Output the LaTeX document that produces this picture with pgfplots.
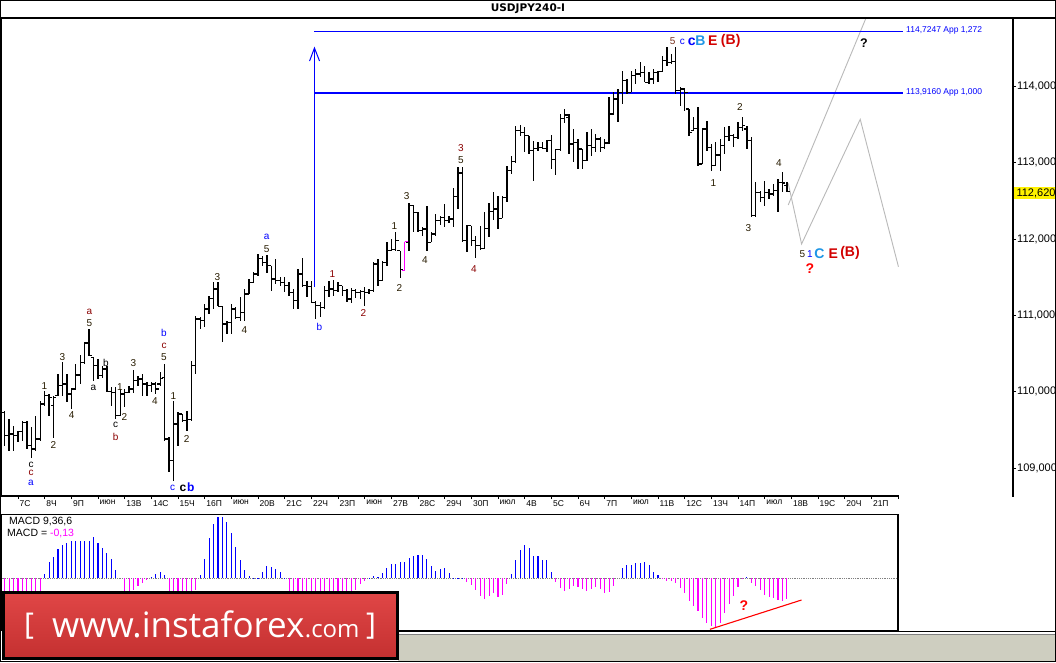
\documentclass[border=0pt]{standalone}
\usepackage{fontspec}
\setmainfont{Liberation Sans}
\newfontfamily\dvs{DejaVu Sans}
\newfontfamily\logofont{Open Sans}
\usepackage{pgfplots}
\usepackage{pgfplotstable}
\pgfplotsset{compat=1.18}
\definecolor{nb}{RGB}{40,28,0}
\definecolor{dr}{RGB}{139,0,0}
\definecolor{wb}{RGB}{0,0,255}
\definecolor{lb}{RGB}{30,150,230}
\definecolor{rb}{RGB}{210,0,0}
\definecolor{br}{RGB}{120,50,30}
\definecolor{mg}{RGB}{255,0,255}
\definecolor{logotop}{RGB}{224,70,70}
\definecolor{logobot}{RGB}{196,48,48}
\definecolor{checker}{RGB}{206,206,192}
\definecolor{projgray}{RGB}{185,185,185}

\pgfplotstableread{
k h l o c
-3 109.751 109.292 109.729 109.424
-2 109.642 109.227 109.424 109.445
-1 109.555 109.227 109.445 109.424
0 109.489 109.336 109.424 109.476
1 109.620 109.358 109.476 109.598
2 109.620 109.249 109.598 109.292
3 109.533 109.126 109.292 109.249
4 109.686 109.227 109.249 109.380
5 109.882 109.358 109.380 109.839
6 110.013 109.817 109.839 109.948
7 109.970 109.686 109.948 109.926
8 109.948 109.389 109.817 109.926
9 110.232 109.948 109.948 110.079
10 110.385 109.948 110.079 110.101
11 110.232 109.860 110.101 109.970
12 110.035 109.773 109.970 110.035
13 110.363 110.035 110.035 110.219
14 110.481 110.101 110.219 110.385
15 110.647 110.363 110.385 110.638
16 110.822 110.472 110.638 110.472
17 110.450 110.144 110.450 110.341
18 110.428 110.166 110.341 110.210
19 110.341 110.175 110.210 110.297
20 110.341 109.991 110.297 110.000
21 110.057 109.817 110.000 109.991
22 110.057 109.642 109.991 109.686
23 110.035 109.686 109.686 109.970
24 110.035 109.795 109.970 109.991
25 110.079 109.983 109.991 110.035
26 110.289 109.983 110.035 110.144
27 110.210 110.070 110.144 110.166
28 110.232 109.939 110.166 110.101
29 110.122 109.948 110.101 110.079
30 110.131 110.000 110.079 110.101
31 110.131 109.970 110.101 110.035
32 110.254 110.070 110.101 110.175
33 110.363 109.358 110.188 109.380
34 109.402 108.943 109.380 109.096
35 109.882 108.825 109.096 109.577
36 109.729 109.292 109.577 109.707
37 109.707 109.598 109.707 109.620
38 109.751 109.489 109.620 109.633
39 110.406 109.620 109.633 110.341
40 110.996 110.232 110.341 110.953
41 110.974 110.822 110.953 110.931
42 111.149 110.843 110.931 111.084
43 111.258 111.018 111.084 111.223
44 111.433 111.084 111.223 111.346
45 111.442 111.119 111.346 111.119
46 111.127 110.655 111.119 110.887
47 110.931 110.756 110.887 110.909
48 111.149 110.756 110.909 111.084
49 111.106 110.953 111.084 110.974
50 111.237 110.931 110.974 111.040
51 111.346 110.931 111.040 111.280
52 111.477 111.280 111.280 111.433
53 111.564 111.424 111.433 111.542
54 111.804 111.520 111.542 111.748
55 111.783 111.652 111.748 111.695
56 111.800 111.564 111.695 111.652
57 111.652 111.324 111.652 111.477
58 111.739 111.411 111.477 111.455
59 111.499 111.389 111.455 111.433
60 111.499 111.302 111.433 111.389
61 111.433 111.258 111.389 111.302
62 111.346 111.084 111.302 111.193
63 111.608 111.084 111.193 111.542
64 111.748 111.368 111.542 111.389
65 111.455 111.237 111.389 111.381
66 111.455 111.171 111.381 111.171
67 111.193 110.953 111.171 111.127
68 111.171 110.974 111.127 111.106
69 111.389 111.084 111.106 111.324
70 111.455 111.237 111.324 111.346
71 111.468 111.258 111.346 111.324
72 111.433 111.302 111.324 111.389
73 111.389 111.258 111.389 111.324
74 111.346 111.171 111.324 111.215
75 111.355 111.162 111.215 111.324
76 111.346 111.223 111.324 111.302
77 111.337 111.215 111.302 111.311
78 111.368 111.119 111.311 111.302
79 111.346 111.280 111.302 111.324
80 111.695 111.302 111.324 111.673
81 111.739 111.381 111.673 111.455
82 111.717 111.455 111.455 111.695
83 111.957 111.652 111.695 111.848
84 112.001 111.848 111.848 111.861
85 112.097 111.848 111.861 111.979
86 111.848 111.486 111.848 111.599
87 111.966 111.586 111.586 111.966
88 112.473 111.848 111.957 112.438
89 112.447 112.089 112.438 112.351
90 112.351 112.089 112.351 112.110
91 112.154 112.045 112.110 112.132
92 112.429 111.848 112.132 111.957
93 112.089 111.957 111.957 112.067
94 112.329 112.045 112.067 112.241
95 112.307 112.185 112.241 112.285
96 112.460 112.154 112.285 112.241
97 112.307 112.211 112.241 112.263
98 112.665 112.154 112.263 112.560
99 112.940 112.394 112.560 112.866
100 112.940 111.957 112.866 111.979
101 112.185 111.826 111.979 112.176
102 112.176 111.914 112.176 111.979
103 112.045 111.748 111.979 111.914
104 112.176 111.861 111.914 111.879
105 112.351 111.870 111.879 112.141
106 112.473 112.023 112.141 112.359
107 112.613 112.255 112.359 112.394
108 112.569 112.132 112.394 112.272
109 112.569 112.272 112.272 112.547
110 112.962 112.482 112.547 112.897
111 113.085 112.853 112.897 113.015
112 113.478 113.001 113.015 113.421
113 113.495 113.356 113.421 113.399
114 113.465 113.137 113.399 113.356
115 113.356 113.115 113.356 113.159
116 113.290 112.766 113.159 113.189
117 113.268 113.159 113.189 113.203
118 113.277 113.181 113.203 113.189
119 113.303 113.146 113.189 113.290
120 113.364 112.919 113.290 113.041
121 113.181 112.840 113.041 113.172
122 113.639 113.159 113.172 113.583
123 113.705 113.521 113.583 113.626
124 113.640 113.116 113.596 113.247
125 113.443 113.007 113.247 113.269
126 113.312 112.919 113.269 113.181
127 113.181 112.919 113.181 113.028
128 113.400 113.028 113.028 113.225
129 113.443 113.094 113.225 113.203
130 113.378 113.138 113.203 113.312
131 113.334 113.138 113.312 113.203
132 113.312 113.181 113.203 113.260
133 113.858 113.247 113.260 113.640
134 113.924 113.640 113.640 113.837
135 113.968 113.531 113.837 113.924
136 114.208 113.771 113.924 114.077
137 114.099 113.902 114.077 113.924
138 114.208 113.924 113.924 114.142
139 114.230 114.033 114.142 114.164
140 114.317 114.121 114.164 114.186
141 114.273 114.055 114.186 114.055
142 114.186 114.033 114.055 114.099
143 114.230 114.033 114.099 114.186
144 114.208 114.055 114.186 114.195
145 114.404 114.186 114.195 114.339
146 114.514 114.274 114.339 114.317
147 114.426 114.295 114.317 114.326
148 114.514 113.902 114.326 113.946
149 113.989 113.749 113.946 113.968
150 113.968 113.684 113.968 113.924
151 113.706 113.356 113.706 113.400
152 113.596 113.422 113.422 113.452
153 113.727 112.963 113.452 112.985
154 113.452 112.985 112.985 113.443
155 113.553 113.159 113.443 113.203
156 113.247 112.897 113.203 112.963
157 113.269 112.963 112.963 113.103
158 113.312 112.897 113.103 113.225
159 113.465 113.116 113.225 113.347
160 113.487 113.290 113.347 113.356
161 113.378 113.203 113.356 113.334
162 113.531 113.312 113.334 113.465
163 113.596 113.422 113.465 113.487
164 113.487 113.181 113.443 113.291
165 113.334 112.286 113.291 112.308
166 112.744 112.286 112.308 112.613
167 112.635 112.482 112.613 112.548
168 112.766 112.439 112.548 112.613
169 112.657 112.526 112.613 112.592
170 112.723 112.570 112.592 112.635
171 112.788 112.351 112.635 112.744
172 112.876 112.613 112.744 112.736
173 112.744 112.613 112.701 112.622
}\ohlc

\pgfplotstableread{
k h l o c
87 111.966 111.586 111.586 111.966
}\magbar

\pgfplotstableread{
k v
-3 -0.16
-2 -0.16
-1 -0.16
0 -0.16
1 -0.16
2 -0.16
3 -0.16
4 -0.16
5 -0.16
6 0.043
7 0.167
8 0.217
9 0.290
10 0.333
11 0.350
12 0.373
13 0.373
14 0.373
15 0.373
16 0.373
17 0.417
18 0.357
19 0.300
20 0.250
21 0.190
22 0.083
23 0.000
24 -0.16
25 -0.15
26 -0.12
27 -0.08
28 -0.05
29 -0.02
30 0.017
31 0.040
32 0.067
33 0.033
34 -0.16
35 -0.16
36 -0.16
37 -0.16
38 -0.16
39 -0.16
40 -0.12
41 0.033
42 0.190
43 0.407
44 0.543
45 0.617
46 0.610
47 0.567
48 0.457
49 0.317
50 0.183
51 0.083
52 0.023
53 0.005
54 0.005
55 0.067
56 0.123
57 0.110
58 0.093
59 0.067
60 0.005
61 -0.16
62 -0.16
63 -0.16
64 -0.16
65 -0.16
66 -0.16
67 -0.16
68 -0.16
69 -0.16
70 -0.16
71 -0.16
72 -0.16
73 -0.16
74 -0.16
75 -0.14
76 -0.12
77 -0.057
78 -0.023
79 0.003
80 0.023
81 0.017
82 0.057
83 0.100
84 0.143
85 0.143
86 0.167
87 0.167
88 0.200
89 0.223
90 0.233
91 0.233
92 0.190
93 0.123
94 0.073
95 0.090
96 0.100
97 0.050
98 0.007
99 0.004
100 0.004
101 -0.033
102 -0.067
103 -0.117
104 -0.177
105 -0.207
106 -0.177
107 -0.150
108 -0.183
109 -0.167
110 -0.057
111 0.043
112 0.183
113 0.283
114 0.333
115 0.307
116 0.223
117 0.223
118 0.183
119 0.183
120 0.067
121 -0.033
122 -0.100
123 -0.123
124 -0.110
125 -0.077
126 -0.090
127 -0.110
128 -0.123
129 -0.110
130 -0.083
131 -0.110
132 -0.143
133 -0.133
134 -0.077
135 0.000
136 0.100
137 0.133
138 0.133
139 0.150
140 0.157
141 0.167
142 0.133
143 0.067
144 0.033
145 -0.010
146 -0.023
147 -0.027
148 -0.043
149 -0.100
150 -0.143
151 -0.223
152 -0.277
153 -0.323
154 -0.393
155 -0.450
156 -0.477
157 -0.500
158 -0.443
159 -0.350
160 -0.257
161 -0.177
162 -0.090
163 -0.007
164 0.017
165 -0.043
166 -0.077
167 -0.117
168 -0.167
169 -0.190
170 -0.193
171 -0.217
172 -0.227
173 -0.210
}\macd

\tikzset{
  wl/.style={inner sep=0pt, font=\fontsize{10}{12}\selectfont},
  wlb/.style={inner sep=0pt, font=\fontsize{14}{16}\selectfont\bfseries},
}
\pgfplotsset{
  hl/.style={only marks, mark=text, text mark={}, error bars/.cd, y dir=both, y explicit, error mark=none, error bar style={line width=1.25pt, #1}},
  ot/.style={only marks, mark=text, text mark={}, error bars/.cd, x dir=minus, x fixed=0.65, error mark=none, error bar style={line width=1.15pt, #1}},
  ct/.style={only marks, mark=text, text mark={}, error bars/.cd, x dir=plus, x fixed=0.65, error mark=none, error bar style={line width=1.15pt, #1}},
}

\begin{document}
\begin{tikzpicture}[x=1pt,y=1pt]
\fill[white] (0,0) rectangle (1056,662);

% ---------------- main price panel ----------------
\begin{axis}[
  at={(1.5pt,166pt)}, anchor=south west, scale only axis,
  width=1011.5pt, height=478pt,
  xmin=-3.7125, xmax=223.875, ymin=108.633, ymax=114.898,
  axis line style={line width=1.2pt},
  tick align=outside, major tick length=3pt,
  tick style={black, line width=0.8pt},
  xtick pos=bottom, ytick pos=right,
  xtick={0,6,...,198},
  xticklabels={7С,8Ч,9П,июн,13В,14С,15Ч,16П,июн,20В,21С,22Ч,23П,июн,27В,28С,29Ч,30П,июл,4В,5С,6Ч,7П,июл,11В,12С,13Ч,14П,июл,18В,19С,20Ч,21П,{}},
  xticklabel style={font=\fontsize{8.5}{10}\selectfont, anchor=north west, inner sep=0pt, xshift=1.5pt, yshift=-1pt},
  ytick={109,110,111,112,113,114},
  yticklabels={{109,000},{110,000},{111,000},{112,000},{113,000},{114,000}},
  yticklabel pos=right,
  yticklabel style={font=\fontsize{11}{13}\selectfont, anchor=west, inner sep=0pt, xshift=1pt},
]
% projection lines
\addplot[projgray, line width=0.9pt] coordinates {(173.3,112.731) (176.3,111.936) (189.5,113.570) (198.1,111.638)};
\addplot[projgray, line width=0.9pt] coordinates {(173.3,112.447) (190.8,114.898)};
% fibo lines
\addplot[wb, line width=1.3pt] coordinates {(66.6,114.7247) (199.1,114.7247)};
\addplot[wb, line width=1.3pt] coordinates {(66.7,113.916) (199.1,113.916)};
\addplot[wb, line width=1.2pt] coordinates {(66.7,111.372) (66.7,114.505)};
\addplot[wb, line width=1pt] coordinates {(65.6,114.334) (66.7,114.505) (67.85,114.334)};
% OHLC bars
\addplot[black, hl=black] table[x=k, y expr={(\thisrow{h}+\thisrow{l})/2}, y error expr={(\thisrow{h}-\thisrow{l})/2}] {\ohlc};
\addplot[black, ot=black] table[x=k, y=o] {\ohlc};
\addplot[black, ct=black] table[x=k, y=c] {\ohlc};
\addplot[mg, hl=mg] table[x=k, y expr={(\thisrow{h}+\thisrow{l})/2}, y error expr={(\thisrow{h}-\thisrow{l})/2}] {\magbar};
\addplot[mg, ot=mg] table[x=k, y=o] {\magbar};
\addplot[mg, ct=mg] table[x=k, y=c] {\magbar};
\end{axis}

% ---------------- MACD panel ----------------
\begin{axis}[
  at={(1.5pt,31.3pt)}, anchor=south west, scale only axis,
  width=896.5pt, height=116pt,
  xmin=-3.7125, xmax=198, ymin=-0.524, ymax=0.636,
  axis line style={line width=1.2pt},
  xtick=\empty, ytick=\empty,
]
\addplot[gray, densely dotted, line width=0.8pt] coordinates {(-3.7,0) (198,0)};
\addplot[ycomb, wb, line width=1.1pt, restrict y to domain=0:1] table[x=k, y=v] {\macd};
\addplot[ycomb, mg, line width=1.1pt, restrict y to domain=-1:0] table[x=k, y=v] {\macd};
\addplot[red, line width=1.1pt] coordinates {(155.7,-0.51) (176.3,-0.217)};
\end{axis}

% hide bottom axis line beyond the time scale
\draw[white, line width=1.8pt] (899,166) -- (1012.3,166);

% title
\draw[line width=1.2pt] (0,644) -- (1056,644);
\node[inner sep=0pt] at (528,653) {\dvs\bfseries\fontsize{10.5}{12}\selectfont USDJPY240-I};

% fibo labels and current price
\node[anchor=west, inner sep=0pt, text=wb, font=\fontsize{8.5}{10}\selectfont] at (906,631.3) {114,7247 App 1,272};
\node[anchor=west, inner sep=0pt, text=wb, font=\fontsize{8.5}{10}\selectfont] at (906,569.7) {113,9160 App 1,000};
\node[anchor=west, inner sep=1pt, fill=yellow, font=\fontsize{11}{13}\selectfont, minimum width=44pt, align=left] at (1013.8,469) {112,620};

% MACD labels
\node[anchor=west, inner sep=0pt, font=\fontsize{10.5}{12}\selectfont] at (9,140) {MACD 9,36,6};
\node[anchor=west, inner sep=0pt, font=\fontsize{10.5}{12}\selectfont] at (7,128.5) {MACD = \textcolor{mg}{-0,13}};
\node[wlb, text=red] at (744,56) {?};

% wave labels
\node[wl, text=black] at (31,197) {c};
\node[wl, text=dr] at (31,189) {c};
\node[wl, text=wb] at (31,179) {a};
\node[wl, text=nb] at (44.3,276) {1};
\node[wl, text=nb] at (53.3,217) {2};
\node[wl, text=nb] at (62.3,305) {3};
\node[wl, text=nb] at (71.7,247) {4};
\node[wl, text=dr] at (89.3,350) {a};
\node[wl, text=nb] at (89.3,339) {5};
\node[wl, text=black] at (93.3,274) {a};
\node[wl, text=black] at (106,299) {b};
\node[wl, text=black] at (115.7,237) {c};
\node[wl, text=dr] at (115.7,225) {b};
\node[wl, text=nb] at (120,275) {1};
\node[wl, text=nb] at (124.3,245) {2};
\node[wl, text=nb] at (133.3,299) {3};
\node[wl, text=nb] at (155,261) {4};
\node[wl, text=wb] at (164,329) {b};
\node[wl, text=dr] at (164,316) {c};
\node[wl, text=nb] at (164,305) {5};
\node[wl, text=nb] at (173.3,266) {1};
\node[wl, text=nb] at (186.7,223) {2};
\node[wl, text=wb] at (172.7,174) {c};
\node[inner sep=0pt, font=\fontsize{12}{14}\selectfont\bfseries, text=black] at (183,174) {c};
\node[inner sep=0pt, font=\fontsize{12}{14}\selectfont\bfseries, text=wb] at (190.7,175) {b};
\node[wl, text=nb] at (217.3,385) {3};
\node[wl, text=nb] at (244.3,332) {4};
\node[wl, text=wb] at (266.7,425) {a};
\node[wl, text=nb] at (266.7,413) {5};
\node[wl, text=wb] at (319.3,335) {b};
\node[wl, text=dr] at (332.5,387.5) {1};
\node[wl, text=dr] at (363.3,348.7) {2};
\node[wl, text=nb] at (394.3,436) {1};
\node[wl, text=nb] at (399.3,373.7) {2};
\node[wl, text=nb] at (406.7,466.3) {3};
\node[wl, text=nb] at (425,402) {4};
\node[wl, text=dr] at (461,514.3) {3};
\node[wl, text=nb] at (461,502) {5};
\node[wl, text=dr] at (474,392.7) {4};
% top: 5 c cB E (B)
\node[wl, text=br] at (672.7,621) {5};
\node[wl, text=wb] at (682.3,620.3) {c};
\node[wlb, text=wb] at (691.7,620.3) {c};
\node[wlb, text=lb] at (700.3,621) {B};
\node[wlb, text=rb] at (712.7,621) {E};
\node[wlb, text=rb] at (730.7,621) {(B)};
\node[wl, text=nb] at (740,555.3) {2};
\node[wl, text=nb] at (713.3,478.7) {1};
\node[wl, text=nb] at (748.3,433.7) {3};
\node[wl, text=nb] at (779,498.7) {4};
% bottom: 5 1C E (B)
\node[wl, text=nb] at (802.3,407.7) {5};
\node[wl, text=wb] at (810,407.7) {1};
\node[wlb, text=lb] at (819.3,408.7) {C};
\node[wlb, text=rb] at (833.3,408.7) {E};
\node[wlb, text=rb] at (850,408.7) {(B)};
\node[wlb, text=red] at (810,393.7) {?};
\node[inner sep=0pt, font=\fontsize{12.5}{14}\selectfont\bfseries, text=black] at (864,619.3) {?};

% bottom pattern and lines
\fill[checker] (398,0) rectangle (1056,28.5);
\draw[line width=1.5pt] (1.5,30.5) -- (1056,30.5);
\draw[gray, line width=0.8pt] (398,28) -- (1056,28);

% logo
\draw[line width=3pt, black, top color=logotop, bottom color=logobot] (3.5,3.5) rectangle (397.5,69.5);
\node[inner sep=0pt, text=white, font=\logofont\fontsize{30}{32}\selectfont] at (29,36) {[};
\node[anchor=base west, inner sep=0pt, text=white, font=\logofont\fontsize{35}{38}\selectfont] (www) at (52,25) {www.instaforex};
\node[anchor=base west, inner sep=0pt, text=white, font=\logofont\fontsize{24}{26}\selectfont] at (www.base east) {.com};
\node[inner sep=0pt, text=white, font=\logofont\fontsize{30}{32}\selectfont] at (371,36) {]};

% outer frame
\draw[line width=1.4pt] (0.7,0.7) rectangle (1055.3,661.3);
\pgfresetboundingbox
\path[use as bounding box] (0,0) rectangle (1056,662);
\end{tikzpicture}
\end{document}
